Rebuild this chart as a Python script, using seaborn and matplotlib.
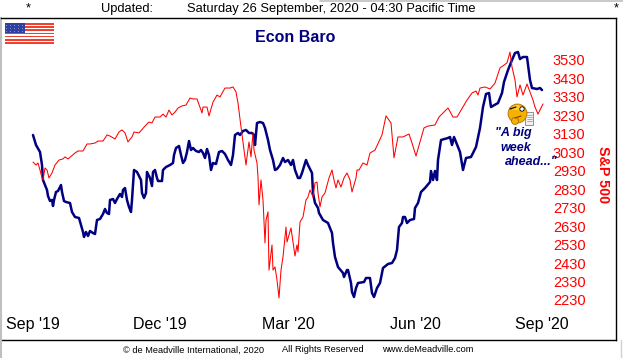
import matplotlib
matplotlib.use("Agg")
import matplotlib.pyplot as plt
from matplotlib.lines import Line2D
from matplotlib.patches import Rectangle, Circle, Wedge
import seaborn as sns

# S&P 500 (x = sessions since Sep '19)
spx_x = [0, 1.5, 2.5, 3.5, 4.5, 5, 6, 7, 8, 9.5, 11, 13, 15, 16, 17.5, 21, 22.5, 25, 27, 28.5, 31, 32.5, 35, 37, 38.5,
         41, 43, 44.5, 46, 47.5, 49.5, 50.5, 53, 56.5, 58, 59.5, 61, 63.5, 65, 66.5, 68, 69.5, 71, 72.5, 74.5, 76.5,
         78.5, 80, 82, 84.5, 85, 87, 88, 90, 92, 93.5, 96, 98.5, 100, 101.5, 102.5, 104, 105, 106.5, 107, 108, 109,
         110, 110.5, 112, 112.5, 113, 114, 115, 116, 116.5, 117.5, 118, 119.5, 120, 121, 122, 123, 124, 125, 126.5,
         127, 129, 130, 131, 132, 132.5, 133.5, 135, 136.5, 137.5, 138.5, 140, 141, 142, 142.5, 143.5, 144.5, 146,
         148, 149.5, 150.5, 151.5, 152.5, 154, 155.5, 157, 158.5, 159.5, 161.5, 162, 163, 165, 167, 168.5, 171, 174.5,
         176.5, 179, 180.5, 182.5, 185, 188, 189.5, 191.5, 193.5, 195.5, 197.5, 201, 203, 207.5, 210, 212, 217, 219.5,
         221.5, 222.5, 223.5, 226, 228.5, 231, 233.5, 237, 238.5, 239.5, 241, 242, 243.5, 245, 247, 250, 251, 252.5,
         255]
spx = [2977, 2961, 2972, 2934, 2891, 2880, 2945, 2934, 2891, 2918, 2961, 2988, 2994, 3005, 2994, 3026, 3037, 3037, 3075,
       3075, 3080, 3091, 3091, 3124, 3118, 3102, 3140, 3151, 3135, 3086, 3113, 3140, 3135, 3178, 3194, 3189, 3221, 3221,
       3237, 3221, 3259, 3232, 3248, 3270, 3281, 3286, 3324, 3319, 3319, 3243, 3275, 3275, 3227, 3302, 3340, 3330, 3378,
       3378, 3384, 3357, 3297, 3167, 3086, 2961, 3005, 3086, 3005, 3135, 3042, 2972, 2896, 2745, 2880, 2772, 2539, 2663,
       2707, 2392, 2528, 2392, 2409, 2338, 2241, 2392, 2463, 2625, 2544, 2620, 2544, 2468, 2528, 2490, 2652, 2680, 2772,
       2788, 2826, 2788, 2864, 2869, 2810, 2734, 2788, 2810, 2891, 2934, 2880, 2837, 2880, 2842, 2891, 2918, 2880, 2815,
       2891, 2934, 2934, 2972, 2961, 3026, 3042, 3124, 3227, 3189, 3000, 3113, 3113, 3129, 3080, 3010, 3086, 3162, 3172,
       3178, 3221, 3270, 3221, 3221, 3313, 3351, 3362, 3340, 3378, 3384, 3373, 3405, 3487, 3514, 3573, 3492, 3422, 3330,
       3395, 3340, 3400, 3313, 3275, 3237, 3292]

# Econ Baro, unlabelled scale in the picture so these are in its own rough units
baro_x = [0, 1.5, 3.5, 4.5, 5, 7, 7.5, 8.5, 9.5, 10, 10.5, 11.5, 12.5, 14, 14.5, 15.5, 16.5, 18.5, 19.5, 21, 23, 24, 25,
          25.5, 26.5, 27.5, 28.5, 30, 31, 32, 33.5, 35, 36, 37, 38, 38.5, 40, 41, 42, 43.5, 44.5, 45, 46, 47, 48, 49,
          49.5, 50.5, 52, 53.5, 54, 54.5, 55.5, 56.5, 57, 58.5, 59.5, 60, 61, 62, 62.5, 64.5, 65, 66.5, 68.5, 70, 70.5,
          71.5, 73, 74, 75, 76, 77, 78, 79, 80, 81.5, 83, 84, 85, 86, 87, 88, 89, 90, 91.5, 93, 94.5, 96, 97.5, 99, 100,
          101, 102.5, 103.5, 105, 106.5, 108, 109.5, 110.5, 111, 112, 113.5, 115, 116, 117.5, 118.5, 120, 121, 122,
          123.5, 125, 126, 127.5, 129, 130, 131, 132.5, 133.5, 134.5, 136.5, 137.5, 139.5, 140, 141, 142.5, 143, 145,
          147.5, 149.5, 150, 151, 152.5, 155, 155.5, 157, 157.5, 159, 159.5, 160.5, 161.5, 162.5, 165.5, 166.5, 168.5,
          169.5, 170.5, 172, 173.5, 175, 177.5, 179.5, 181, 182, 183, 184.5, 185, 186, 187, 188.5, 190.5, 191, 192.5,
          194, 196, 198.5, 199, 200, 201, 202, 202.5, 204, 207.5, 208.5, 209.5, 210.5, 213.5, 215, 216.5, 219, 221.5,
          223.5, 225, 226.5, 228, 229, 232.5, 234.5, 235.5, 237.5, 239.5, 241, 242.5, 243.5, 245, 247, 248.5, 249.5,
          252, 253.5, 254.5]
baro = [223, 213, 206, 193, 178, 168, 162, 157, 158, 152, 158, 166, 167, 173, 166, 157, 156, 155, 146, 141, 140, 133, 126,
        121, 126, 122, 127, 125, 124, 138, 139, 144, 149, 145, 144, 158, 159, 155, 159, 164, 161, 168, 170, 158, 151, 146,
        158, 188, 186, 180, 178, 165, 160, 165, 186, 180, 172, 186, 188, 180, 177, 177, 188, 191, 193, 195, 203, 210, 212,
        203, 195, 198, 206, 217, 208, 210, 207, 206, 208, 205, 200, 209, 203, 188, 195, 194, 206, 207, 204, 198, 193, 203,
        223, 225, 223, 227, 228, 225, 225, 223, 213, 235, 236, 235, 230, 218, 208, 198, 188, 189, 193, 200, 196, 198, 193,
        198, 188, 180, 180, 185, 198, 193, 185, 165, 155, 150, 145, 138, 135, 125, 115, 101, 91, 85, 81, 88, 88, 75, 66, 61,
        70, 75, 76, 80, 80, 65, 61, 70, 75, 90, 94, 95, 100, 108, 131, 135, 141, 141, 135, 138, 139, 150, 155, 166, 170,
        176, 187, 178, 187, 178, 198, 218, 220, 221, 213, 221, 206, 188, 200, 201, 211, 230, 251, 264, 265, 251, 255, 265,
        276, 288, 298, 305, 306, 299, 301, 301, 278, 270, 269, 270, 268]

spx_ticks = [2230, 2330, 2430, 2530, 2630, 2730, 2830, 2930, 3030, 3130, 3230, 3330, 3430, 3530]
month_pos = [0, 63.5, 127.5, 191, 254.5]
month_labels = ["Sep '19", "Dec '19", "Mar '20", "Jun '20", "Sep '20"]

W, H = 623, 358
NAVY = "#000080"


def fx(p):
    return p / W


def fy(p):
    return 1 - p / H


sns.set_style("white")
plt.rcParams['font.family'] = ['Liberation Sans', 'DejaVu Sans']

fig = plt.figure(figsize=(W / 100, H / 100), dpi=100, facecolor="white")
ax = fig.add_axes([fx(1), fy(340), fx(615), fy(18) - fy(340)])
ax2 = ax.twinx()
ax.set_zorder(ax2.get_zorder() + 1)
ax.patch.set_visible(False)

sns.lineplot(x=baro_x, y=baro, ax=ax2, color=NAVY, linewidth=1.8, errorbar=None)
sns.lineplot(x=spx_x, y=spx, ax=ax, color="#ff0000", linewidth=0.75, errorbar=None)

ax.set_xlim(-16, 291.5)
ax.set_ylim(2013, 3757.5)
ax2.set_ylim(18, 340)
ax2.set_yticks([])
ax2.set_ylabel("")
for s in ax2.spines.values():
    s.set_visible(False)

ax.yaxis.tick_right()
ax.set_yticks(spx_ticks)
ax.set_yticklabels([str(t) for t in spx_ticks])
ax.tick_params(axis="y", length=0, pad=-45.5, labelsize=10.5, labelcolor="#ff0000")
ax.set_xticks(month_pos)
ax.set_xticklabels(month_labels)
ax.tick_params(axis="x", length=0, pad=-16.5, labelsize=11.5, labelcolor="black")

for s in ["top", "bottom", "right"]:
    ax.spines[s].set_color("black")
    ax.spines[s].set_linewidth(1)
ax.spines["left"].set_color("#c0c0c0")
ax.spines["left"].set_linewidth(1.5)

# header / footer
head = dict(fontsize=9.3, color="black", va="center")
fig.text(fx(26), fy(8), "*", **head)
fig.text(fx(101), fy(9), "Updated:", **head)
fig.text(fx(187), fy(9), "Saturday 26 September, 2020 - 04:30 Pacific Time", **head)
fig.text(fx(614), fy(8), "*", **head)
foot = dict(fontsize=6.7, color="black", va="center")
fig.text(fx(123), fy(350), "© de Meadville International, 2020", **foot)
fig.text(fx(282), fy(350), "All Rights Reserved", **foot)
fig.text(fx(382), fy(350), "www.deMeadville.com", **foot)
fig.add_artist(Line2D([fx(320), 1], [fy(0.5), fy(0.5)], color="#c0c0c0", lw=1.2))
fig.add_artist(Line2D([fx(621), fx(621)], [fy(340), 0], color="#d0d0d0", lw=1))
fig.add_artist(Line2D([fx(0.7), fx(0.7)], [fy(340), 0], color="#c0c0c0", lw=1.5))

fig.text(fx(295), fy(37), "Econ Baro", fontsize=11.5, fontweight="bold", color=NAVY, ha="center", va="center")
fig.text(fx(603), fy(175), "S&P 500", fontsize=10.3, fontweight="bold", color="#ff0000",
         rotation=270, ha="center", va="center")

note = dict(fontsize=9, fontweight="bold", fontstyle="italic", color=NAVY, ha="center", va="center")
fig.text(fx(513), fy(133), '"A big', **note)
fig.text(fx(516), fy(148), "week", **note)
fig.text(fx(531), fy(162), 'ahead..."', **note)

# flag
flag = fig.add_axes([fx(5), fy(44), fx(49), fy(23) - fy(44)])
flag.set_xlim(0, 49)
flag.set_ylim(21, 0)
flag.axis("off")
for i in range(7):
    flag.add_patch(Rectangle((0, i * 3.2), 49, 1.6, color="#f04030", lw=0))
flag.add_patch(Rectangle((0, 0), 20, 10, color="#3040a0", lw=0))
for i in range(5):
    for j in range(3):
        flag.add_patch(Rectangle((1.5 + i * 4, 1.5 + j * 3), 1, 1, color="#8090d0", lw=0))

# thinking smiley
face = fig.add_axes([fx(505), fy(127), fx(34), fy(101) - fy(127)])
face.set_xlim(505, 539)
face.set_ylim(127, 101)
face.axis("off")
face.add_patch(Rectangle((525, 112), 8, 13, facecolor="#f0f0f0", edgecolor="#808080", lw=0.6))
for py in [115, 117, 119, 121]:
    face.plot([526.5, 531.5], [py, py], color="#909090", lw=0.5)
face.add_patch(Circle((517.5, 113.5), 9.5, facecolor="#f5b000", edgecolor="#a06000", lw=0.5))
face.add_patch(Wedge((517, 110), 5, 180, 360, facecolor="#ffdf60", lw=0, alpha=0.6))
face.add_patch(Circle((522, 109), 2.2, facecolor="white", edgecolor="black", lw=0.6))
face.plot([510, 516], [109, 107], color="black", lw=0.8)
face.plot([515, 521], [118, 116], color="#704000", lw=0.8)
face.add_patch(Circle((515, 121), 3.5, facecolor="#f5b000", edgecolor="#a06000", lw=0.5))

fig.savefig("out.png", dpi=100)
